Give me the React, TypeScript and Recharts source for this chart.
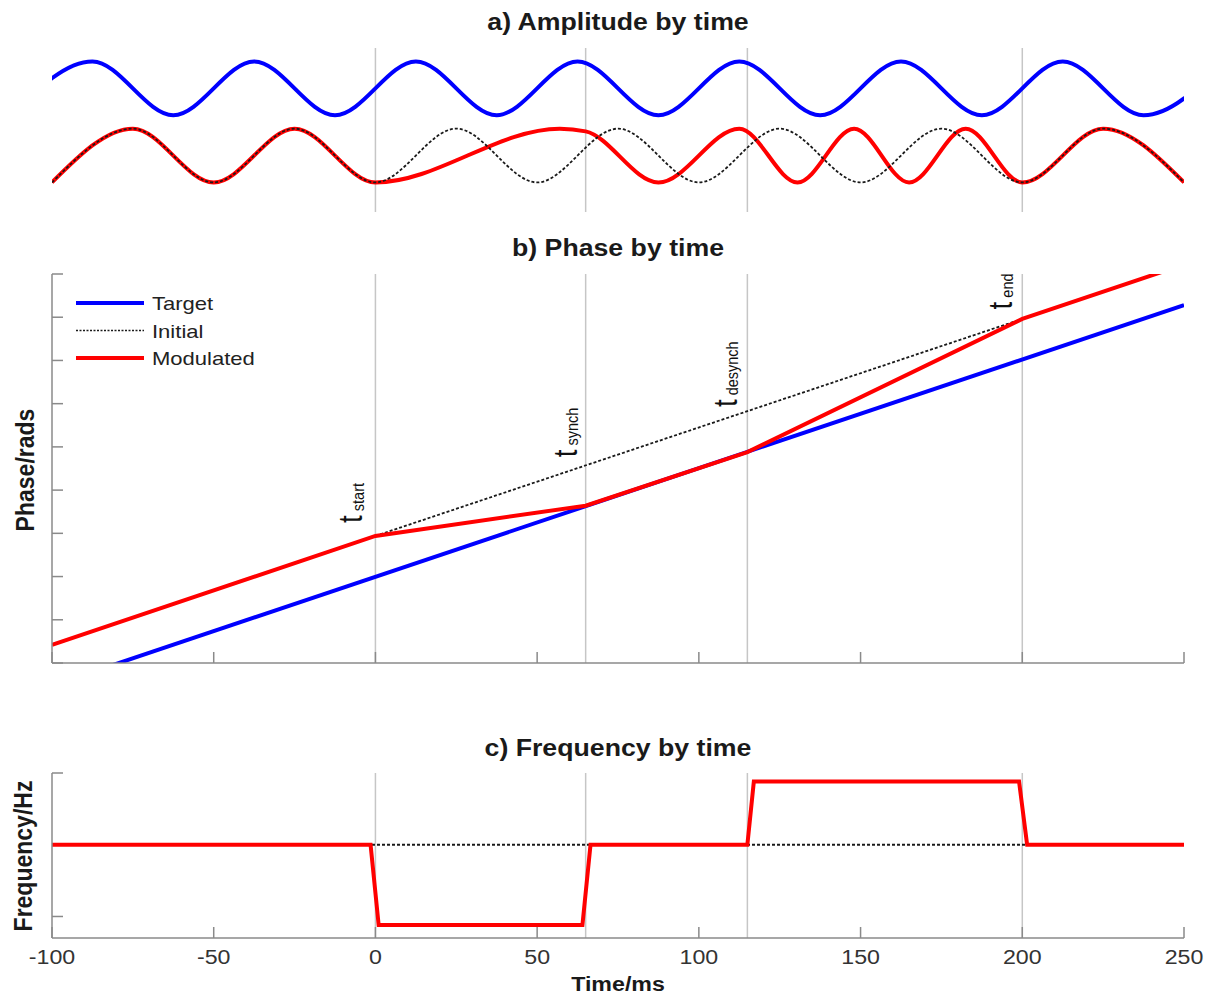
import React from 'react';
import { LineChart, Line, XAxis, YAxis, ReferenceLine, ReferenceDot } from 'recharts';

const FONT = '"Liberation Sans", Arial, Helvetica, sans-serif';
const STRETCH = 1.16; // the original figure is a bit wider than tall

// time axis (ms)
const timeTicks = [-100, -50, 0, 50, 100, 150, 200, 250];
const eventTimes = [0, 65, 115, 200]; // t_start, t_synch, t_desynch, t_end

// a) amplitude: turning points (peaks / troughs) of each wave
const targetAmpTimes = [-112.5, -87.5, -62.5, -37.5, -12.5, 12.5, 37.5, 62.5, 87.5, 112.5, 137.5, 162.5, 187.5, 212.5, 237.5, 262.5];
const targetAmpValues = [1.25, 2.25, 1.25, 2.25, 1.25, 2.25, 1.25, 2.25, 1.25, 2.25, 1.25, 2.25, 1.25, 2.25, 1.25, 2.25];
const initialAmpTimes = [-100, -75, -50, -25, 0, 25, 50, 75, 100, 125, 150, 175, 200, 225, 250];
const initialAmpValues = [0, 1, 0, 1, 0, 1, 0, 1, 0, 1, 0, 1, 0, 1, 0];
const modulatedAmpTimes = [-100, -75, -50, -25, 0, 57, 65, 87.5, 112.5, 130.5, 148, 165, 182.5, 200, 225, 250];
const modulatedAmpValues = [0, 1, 0, 1, 0, 1, 0.95, 0, 1, 0, 1, 0, 1, 0, 1, 0];

// b) phase (rads)
const phaseTicks = [0, 5, 10, 15, 20, 25, 30, 35, 40, 45];
const targetPhaseTimes = [-100, 250];
const targetPhaseValues = [-2.6, 41.4];
const initialPhaseTimes = [0, 200];
const initialPhaseValues = [14.7, 39.8];
const modulatedPhaseTimes = [-100, 0, 65, 115, 200, 250];
const modulatedPhaseValues = [2.1, 14.7, 18.2, 24.4, 39.8, 46.1];

// c) frequency (Hz)
const freqTicks = [10, 30];
const initialFreqTimes = [-100, 250];
const initialFreqValues = [20, 20];
const modulatedFreqTimes = [-100, -1.5, 1, 64, 66.5, 115, 117, 199, 201.5, 250];
const modulatedFreqValues = [20, 20, 8.8, 8.8, 20, 20, 28.8, 28.8, 20, 20];

// event labels in panel b (time, phase of the label foot)
const eventLabels = [
    { sub: 'start', t: -4, phase: 16.2 },
    { sub: 'synch', t: 62.3, phase: 23.8 },
    { sub: 'desynch', t: 111.8, phase: 29.6 },
    { sub: 'end', t: 196.8, phase: 40.9 },
];

const toPoints = (ts: number[], vs: number[]) => ts.map((t, i) => ({ t, v: vs[i] }));

const BLUE = '#0000ff';
const RED = '#ff0000';
const DASH = '#1a1a1a';
const AXIS = '#8a8a8a';
const GUIDE = '#c6c6c6';
const TICK_LEN = 11;

// ticks are drawn inward (MATLAB style), so draw them by hand from the axis position
const UpTick = (props: any) => {
    const { x, y } = props;
    return <line x1={x} x2={x} y1={y} y2={y - TICK_LEN} stroke={AXIS} strokeWidth={1.5} />;
};

const InTick = (props: any) => {
    const { x, y } = props;
    return <line x1={x} x2={x + TICK_LEN} y1={y} y2={y} stroke={AXIS} strokeWidth={1.5} />;
};

const TimeTick = (props: any) => {
    const { x, y, payload } = props;
    return (
        <g>
            <line x1={x} x2={x} y1={y} y2={y - TICK_LEN} stroke={AXIS} strokeWidth={1.5} />
            <text
                transform={`translate(${x},${y + 26}) scale(${STRETCH},1)`}
                textAnchor="middle"
                fontSize={20}
                fontFamily={FONT}
                fill="#333"
            >
                {payload.value}
            </text>
        </g>
    );
};

const EventLabel = ({ cx, cy, sub }: { cx: number; cy: number; sub: string }) => (
    <text
        transform={`translate(${cx},${cy}) scale(${STRETCH},1) rotate(-90)`}
        fontFamily={FONT}
        fill="#111"
    >
        <tspan fontSize={28}>t</tspan>
        <tspan fontSize={14.5} dx={4} dy={1}>
            {sub}
        </tspan>
    </text>
);

const Title = ({ text, cy }: { text: string; cy: number }) => (
    <div
        style={{
            position: 'absolute',
            left: 0,
            width: 1236,
            top: cy - 13,
            height: 26,
            lineHeight: '26px',
            textAlign: 'center',
            fontSize: 23,
            fontWeight: 'bold',
            color: '#1a1a1a',
            transform: `scaleX(${STRETCH})`,
            transformOrigin: 'center',
        }}
    >
        {text}
    </div>
);

const SideLabel = ({ text, cx, cy }: { text: string; cx: number; cy: number }) => (
    <div
        style={{
            position: 'absolute',
            left: cx - 100,
            width: 200,
            top: cy - 13,
            height: 26,
            lineHeight: '26px',
            textAlign: 'center',
            fontSize: 23,
            fontWeight: 'bold',
            color: '#1a1a1a',
            transform: `scaleX(${STRETCH}) rotate(-90deg)`,
            transformOrigin: 'center',
        }}
    >
        {text}
    </div>
);

const guides = () =>
    eventTimes.map((t) => (
        <ReferenceLine key={t} x={t} stroke={GUIDE} strokeWidth={1.5} />
    ));

const Legend = () => {
    const items = [
        { name: 'Target', color: BLUE, width: 4, dash: undefined },
        { name: 'Initial', color: DASH, width: 1.6, dash: '2 1.5' },
        { name: 'Modulated', color: RED, width: 4, dash: undefined },
    ];
    return (
        <svg width={300} height={100} style={{ position: 'absolute', left: 60, top: 285 }}>
            {items.map((it, i) => {
                const y = 18 + i * 27.5;
                return (
                    <g key={it.name}>
                        <line x1={16} x2={84} y1={y} y2={y} stroke={it.color} strokeWidth={it.width} strokeDasharray={it.dash} />
                        <text
                            transform={`translate(92,${y + 7}) scale(${STRETCH},1)`}
                            fontSize={19}
                            fontFamily={FONT}
                            fill="#222"
                        >
                            {it.name}
                        </text>
                    </g>
                );
            })}
        </svg>
    );
};

const App: React.FC = () => {
    const axisStyle = { stroke: AXIS, strokeWidth: 1.5 };

    return (
        <div
            style={{
                position: 'absolute',
                left: 0,
                top: 0,
                width: 1207,
                height: 996,
                background: '#ffffff',
                fontFamily: FONT,
                overflow: 'hidden',
            }}
        >
            <Title text="a) Amplitude by time" cy={21.5} />
            <Title text="b) Phase by time" cy={248} />
            <Title text="c) Frequency by time" cy={747.5} />
            <SideLabel text="Phase/rads" cx={25} cy={470} />
            <SideLabel text="Frequency/Hz" cx={23} cy={856} />

            {/* a) amplitude */}
            <div style={{ position: 'absolute', left: 0, top: 30 }}>
                <LineChart width={1207} height={200} margin={{ top: 18, right: 23, bottom: 18, left: 52 }}>
                    <XAxis type="number" dataKey="t" domain={[-100, 250]} allowDataOverflow hide />
                    <YAxis type="number" domain={[-0.55, 2.5]} allowDataOverflow hide />
                    {guides()}
                    <Line data={toPoints(targetAmpTimes, targetAmpValues)} dataKey="v" type="monotone" stroke={BLUE} strokeWidth={4} dot={false} activeDot={false} isAnimationActive={false} />
                    <Line data={toPoints(modulatedAmpTimes, modulatedAmpValues)} dataKey="v" type="monotone" stroke={RED} strokeWidth={4} dot={false} activeDot={false} isAnimationActive={false} />
                    <Line data={toPoints(initialAmpTimes, initialAmpValues)} dataKey="v" type="monotone" stroke={DASH} strokeWidth={1.8} strokeDasharray="3 2" dot={false} activeDot={false} isAnimationActive={false} />
                </LineChart>
            </div>

            {/* b) phase */}
            <div style={{ position: 'absolute', left: 0, top: 260 }}>
                <LineChart width={1207} height={440} margin={{ top: 14, right: 23, bottom: 27, left: 42 }}>
                    <XAxis
                        type="number"
                        dataKey="t"
                        domain={[-100, 250]}
                        ticks={timeTicks}
                        interval={0}
                        allowDataOverflow
                        height={10}
                        tick={<UpTick />}
                        tickSize={0}
                        tickMargin={0}
                        axisLine={axisStyle}
                        tickLine={false}
                    />
                    <YAxis
                        type="number"
                        domain={[0, 45]}
                        ticks={phaseTicks}
                        interval={0}
                        allowDataOverflow
                        width={10}
                        tick={<InTick />}
                        tickSize={0}
                        tickMargin={0}
                        axisLine={axisStyle}
                        tickLine={false}
                    />
                    {guides()}
                    <Line data={toPoints(targetPhaseTimes, targetPhaseValues)} dataKey="v" type="linear" stroke={BLUE} strokeWidth={4} dot={false} activeDot={false} isAnimationActive={false} />
                    <Line data={toPoints(initialPhaseTimes, initialPhaseValues)} dataKey="v" type="linear" stroke={DASH} strokeWidth={1.8} strokeDasharray="3 2" dot={false} activeDot={false} isAnimationActive={false} />
                    <Line data={toPoints(modulatedPhaseTimes, modulatedPhaseValues)} dataKey="v" type="linear" stroke={RED} strokeWidth={4} dot={false} activeDot={false} isAnimationActive={false} />
                    {eventLabels.map((e) => (
                        <ReferenceDot
                            key={e.sub}
                            x={e.t}
                            y={e.phase}
                            r={0}
                            shape={(p: any) => <EventLabel cx={p.cx} cy={p.cy} sub={e.sub} />}
                        />
                    ))}
                </LineChart>
            </div>
            <Legend />

            {/* c) frequency */}
            <div style={{ position: 'absolute', left: 0, top: 760 }}>
                <LineChart width={1207} height={236} margin={{ top: 13, right: 23, bottom: 18, left: 42 }}>
                    <XAxis
                        type="number"
                        dataKey="t"
                        domain={[-100, 250]}
                        ticks={timeTicks}
                        interval={0}
                        allowDataOverflow
                        height={40}
                        tick={<TimeTick />}
                        tickSize={0}
                        tickMargin={0}
                        axisLine={axisStyle}
                        tickLine={false}
                    />
                    <YAxis
                        type="number"
                        domain={[7, 30]}
                        ticks={freqTicks}
                        interval={0}
                        allowDataOverflow
                        width={10}
                        tick={<InTick />}
                        tickSize={0}
                        tickMargin={0}
                        axisLine={axisStyle}
                        tickLine={false}
                    />
                    {guides()}
                    <Line data={toPoints(initialFreqTimes, initialFreqValues)} dataKey="v" type="linear" stroke={DASH} strokeWidth={1.8} strokeDasharray="3 2" dot={false} activeDot={false} isAnimationActive={false} />
                    <Line data={toPoints(modulatedFreqTimes, modulatedFreqValues)} dataKey="v" type="linear" stroke={RED} strokeWidth={4} dot={false} activeDot={false} isAnimationActive={false} />
                </LineChart>
            </div>
            <div
                style={{
                    position: 'absolute',
                    left: 0,
                    width: 1236,
                    top: 971,
                    height: 26,
                    lineHeight: '26px',
                    textAlign: 'center',
                    fontSize: 20,
                    fontWeight: 'bold',
                    color: '#1a1a1a',
                    transform: `scaleX(${STRETCH})`,
                    transformOrigin: 'center',
                }}
            >
                Time/ms
            </div>
        </div>
    );
};

export default App;
